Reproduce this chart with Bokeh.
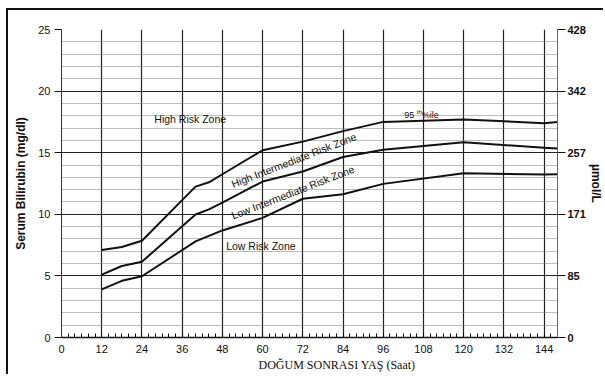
from bokeh.plotting import figure
from bokeh.models import Range1d, FixedTicker, LinearAxis, Label, Title
from bokeh.embed import file_html
from bokeh.resources import INLINE

# ---- data ----
hours = [12, 18, 24, 40, 44, 48, 60, 72, 84, 96, 120, 144, 148]
p95 = [7.1, 7.35, 7.85, 12.25, 12.6, 13.25, 15.2, 15.9, 16.75, 17.5, 17.7, 17.4, 17.5]
p75 = [5.1, 5.8, 6.15, 9.98, 10.4, 10.95, 12.66, 13.47, 14.65, 15.24, 15.85, 15.4, 15.35]
p40 = [3.9, 4.6, 4.97, 7.8, 8.25, 8.69, 9.71, 11.26, 11.63, 12.47, 13.34, 13.23, 13.25]

x_ticks = [0, 12, 24, 36, 48, 60, 72, 84, 96, 108, 120, 132, 144]
y_ticks = [0, 5, 10, 15, 20, 25]
umol_labels = ["0", "85", "171", "257", "342", "428"]

FONT = "Liberation Sans"
INK = "#111111"

p = figure(width=597, height=366,
           x_range=Range1d(0, 148), y_range=Range1d(0, 25),
           output_backend="svg", toolbar_location=None,
           min_border_left=53, min_border_right=48,
           min_border_top=19, min_border_bottom=39,
           styles={"margin-left": "6px", "margin-top": "8px",
                   "border-top": "2px solid #111", "border-left": "2px solid #111"})
p.outline_line_color = None
p.background_fill_color = "white"

# x axis
xa = p.xaxis[0]
xa.ticker = FixedTicker(ticks=x_ticks, minor_ticks=list(range(0, 149, 2)))
xa.major_tick_out = 0
xa.major_tick_in = 0
xa.minor_tick_in = 4
xa.minor_tick_out = 0
xa.minor_tick_line_color = INK
xa.axis_line_color = INK
xa.axis_line_width = 1.5
xa.major_label_standoff = 7
xa.major_label_text_font = FONT
xa.major_label_text_font_size = "11px"
xa.major_label_text_color = INK

# left axis
ya = p.yaxis[0]
ya.ticker = FixedTicker(ticks=y_ticks)
ya.major_tick_out = 7
ya.major_tick_in = 0
ya.minor_tick_out = 0
ya.minor_tick_in = 0
ya.major_tick_line_color = INK
ya.axis_line_color = "#333333"
ya.major_label_standoff = 4
ya.major_label_text_font = FONT
ya.major_label_text_font_size = "11px"
ya.major_label_text_color = INK
ya.axis_label = "Serum Bilirubin (mg/dl)"
ya.axis_label_text_font = FONT
ya.axis_label_text_font_style = "bold"
ya.axis_label_text_font_size = "12px"
ya.axis_label_text_color = INK
ya.axis_label_standoff = 7

# right axis (µmol/L)
ra = LinearAxis(ticker=FixedTicker(ticks=y_ticks),
                major_label_overrides={float(k): v for k, v in zip(y_ticks, umol_labels)},
                axis_label="µmol/L")
ra.major_tick_out = 8
ra.major_tick_in = 0
ra.major_tick_line_color = INK
ra.axis_line_color = "#666666"
ra.major_label_standoff = 2
ra.major_label_text_font = FONT
ra.major_label_text_font_style = "bold"
ra.major_label_text_font_size = "11px"
ra.major_label_text_color = INK
ra.axis_label_text_font = FONT
ra.axis_label_text_font_style = "bold"
ra.axis_label_text_font_size = "12px"
ra.axis_label_text_color = INK
ra.axis_label_standoff = 0
p.add_layout(ra, "right")

# x axis title, shifted right as in the reference
p.add_layout(Title(text="DOĞUM SONRASI YAŞ (Saat)", align="left", offset=197,
                   standoff=0, text_font="Liberation Serif", text_font_size="12px",
                   text_font_style="normal", text_color=INK), "below")

# grids
p.xgrid.ticker = FixedTicker(ticks=x_ticks[1:])
p.xgrid.grid_line_color = "#222222"
p.xgrid.grid_line_width = 1.2
p.ygrid.ticker = FixedTicker(ticks=y_ticks[1:],
                             minor_ticks=[i for i in range(1, 25) if i % 5])
p.ygrid.grid_line_color = "#222222"
p.ygrid.grid_line_width = 1.2
p.ygrid.minor_grid_line_color = "#7a7a7a"
p.ygrid.minor_grid_line_dash = "1 1"
p.ygrid.minor_grid_line_width = 1

# percentile curves
for ys in (p95, p75, p40):
    p.line(hours, ys, line_color=INK, line_width=2)

# zone labels
def lab(x, y, text, size="10.5px", angle=0.0, xo=0, yo=0, align="center"):
    p.add_layout(Label(x=x, y=y, text=text, x_offset=xo, y_offset=yo,
                       text_font=FONT, text_font_size=size, text_color=INK,
                       text_align=align, text_baseline="middle", angle=angle))

lab(38.4, 17.7, "High Risk Zone")
lab(59.5, 7.45, "Low Risk Zone")
lab(69.3, 14.4, "High Intermediate Risk Zone", angle=0.37)
lab(69.0, 11.8, "Low Intermediate Risk Zone", angle=0.37)
lab(102.3, 18.1, "95", size="9px", align="left")
lab(102.3, 18.1, "th", size="6px", align="left", xo=12.5, yo=3)
lab(102.3, 18.1, "%ile", size="9px", align="left", xo=17.5)

open("out.html", "w").write(file_html(p, INLINE))
